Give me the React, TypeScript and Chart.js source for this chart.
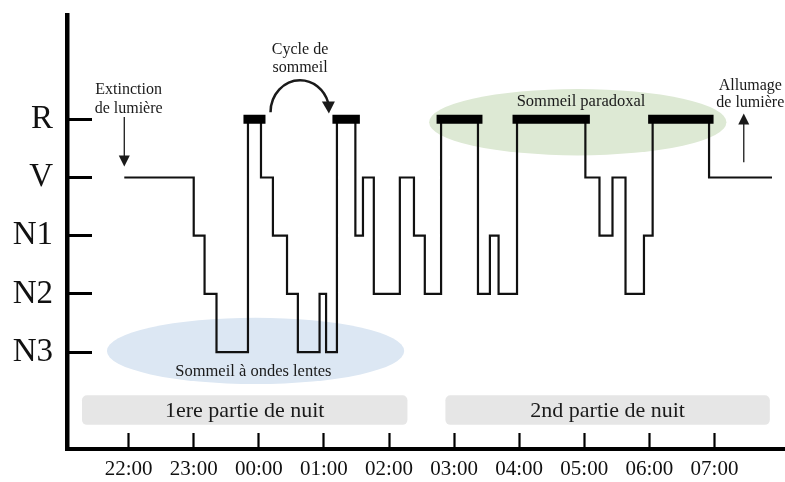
import React, { useEffect, useRef } from 'react';
import { Chart, registerables } from 'chart.js';

Chart.register(...registerables);

// ---- data ----
const stageLabels = ['N3', 'N2', 'N1', 'V', 'R'];
const timeLabels = ['22:00', '23:00', '00:00', '01:00', '02:00', '03:00', '04:00', '05:00', '06:00', '07:00'];
const tickMinutes = [0, 60, 120, 180, 240, 300, 360, 420, 480, 540];

// minutes after 22:00 at which each stage begins (last entry = end of recording)
const transitionMinutes = [-4, 60, 70, 81, 110, 122, 133, 146, 156, 176, 182, 192, 209, 216, 226, 250, 263, 273, 288, 322, 333, 341, 358, 421, 434, 446, 458, 475, 483, 535, 593];
const transitionStages = ['V', 'N1', 'N2', 'N3', 'R', 'V', 'N1', 'N2', 'N3', 'N2', 'N3', 'R', 'N1', 'V', 'N2', 'V', 'N1', 'N2', 'R', 'N2', 'N1', 'N2', 'R', 'V', 'N1', 'V', 'N2', 'N1', 'R', 'V', 'V'];

// shaded zones
const zoneLabels = ['Sommeil à ondes lentes', 'Sommeil paradoxal'];
const zoneCenterMinutes = [117, 414];
const zoneCenterStage = [0.02, 3.95];
const zoneHalfWidthMinutes = [137, 137];
const zoneHalfHeightStage = [0.57, 0.57];
const zoneLabelMinutes = [115, 417];
const zoneLabelStage = [-0.34, 4.31];
const zoneColors = ['#dce7f3', '#dde9d4'];

// night halves
const periodLabels = ['1ere partie de nuit', '2nd partie de nuit'];
const periodStartMinutes = [-43, 292];
const periodEndMinutes = [257, 591];
const periodTopStage = -0.74;
const periodBottomStage = -1.25;

// notes
const noteLines = [['Extinction', 'de lumière'], ['Cycle de', 'sommeil'], ['Allumage', 'de lumière']];
const noteMinutes = [0, 158, 573];
const noteLineStages = [[4.5, 4.18], [5.19, 4.88], [4.57, 4.28]];
const arrowMinutes = [-4, 567];
const arrowFromStage = [4.04, 3.26];
const arrowToStage = [3.19, 4.1];
const cycleArcCenter = [158, 4.12];
const cycleArcRadius = [27.2, 0.55];
const cycleArcTip = [184.6, 4.1];

const FONT = '"Liberation Serif", "Times New Roman", serif';

const stageValue = (s: string) => stageLabels.indexOf(s);

const zeroPadding = (scale: any) => {
  scale.paddingTop = 0;
  scale.paddingBottom = 0;
  scale.paddingLeft = 0;
  scale.paddingRight = 0;
};

const overlayPlugin = {
  id: 'overlay',
  beforeDatasetsDraw(chart: any) {
    const { ctx, scales } = chart;
    const x = scales.x, y = scales.y;
    ctx.save();
    zoneLabels.forEach((_, i) => {
      const cx = x.getPixelForValue(zoneCenterMinutes[i]);
      const cy = y.getPixelForValue(zoneCenterStage[i]);
      const rx = Math.abs(x.getPixelForValue(zoneCenterMinutes[i] + zoneHalfWidthMinutes[i]) - cx);
      const ry = Math.abs(y.getPixelForValue(zoneCenterStage[i] + zoneHalfHeightStage[i]) - cy);
      ctx.beginPath();
      ctx.ellipse(cx, cy, rx, ry, 0, 0, Math.PI * 2);
      ctx.fillStyle = zoneColors[i];
      ctx.fill();
    });
    periodLabels.forEach((label, i) => {
      const x0 = x.getPixelForValue(periodStartMinutes[i]);
      const x1 = x.getPixelForValue(periodEndMinutes[i]);
      const y0 = y.getPixelForValue(periodTopStage);
      const y1 = y.getPixelForValue(periodBottomStage);
      ctx.beginPath();
      ctx.roundRect(x0, y0, x1 - x0, y1 - y0, 5);
      ctx.fillStyle = '#e6e6e6';
      ctx.fill();
      ctx.fillStyle = '#1a1a1a';
      ctx.font = `22px ${FONT}`;
      ctx.textAlign = 'center';
      ctx.textBaseline = 'middle';
      ctx.fillText(label, (x0 + x1) / 2, (y0 + y1) / 2 + 1);
    });
    ctx.restore();
  },
  afterDatasetsDraw(chart: any) {
    const { ctx, scales } = chart;
    const x = scales.x, y = scales.y;
    ctx.save();
    ctx.fillStyle = '#1a1a1a';
    ctx.textAlign = 'center';
    ctx.textBaseline = 'middle';
    ctx.font = `16.5px ${FONT}`;
    zoneLabels.forEach((label, i) => {
      ctx.fillText(label, x.getPixelForValue(zoneLabelMinutes[i]), y.getPixelForValue(zoneLabelStage[i]));
    });
    ctx.font = `16px ${FONT}`;
    noteLines.forEach((lines, i) => {
      lines.forEach((t, j) => {
        ctx.fillText(t, x.getPixelForValue(noteMinutes[i]), y.getPixelForValue(noteLineStages[i][j]));
      });
    });
    // straight arrows
    ctx.strokeStyle = '#1a1a1a';
    arrowMinutes.forEach((m, i) => {
      const ax = x.getPixelForValue(m);
      const yFrom = y.getPixelForValue(arrowFromStage[i]);
      const yTip = y.getPixelForValue(arrowToStage[i]);
      const dir = yTip > yFrom ? 1 : -1;
      ctx.lineWidth = 1.3;
      ctx.beginPath();
      ctx.moveTo(ax, yFrom);
      ctx.lineTo(ax, yTip - dir * 10);
      ctx.stroke();
      ctx.beginPath();
      ctx.moveTo(ax, yTip);
      ctx.lineTo(ax - 5.5, yTip - dir * 11);
      ctx.lineTo(ax + 5.5, yTip - dir * 11);
      ctx.closePath();
      ctx.fill();
    });
    // curved cycle arrow
    const cx = x.getPixelForValue(cycleArcCenter[0]);
    const cy = y.getPixelForValue(cycleArcCenter[1]);
    const rx = Math.abs(x.getPixelForValue(cycleArcCenter[0] + cycleArcRadius[0]) - cx);
    const ry = Math.abs(y.getPixelForValue(cycleArcCenter[1] + cycleArcRadius[1]) - cy);
    ctx.lineWidth = 2.5;
    ctx.beginPath();
    ctx.ellipse(cx, cy, rx, ry, 0, Math.PI, Math.PI * 2 - 0.3);
    ctx.stroke();
    const tx = x.getPixelForValue(cycleArcTip[0]);
    const ty = y.getPixelForValue(cycleArcTip[1]);
    ctx.beginPath();
    ctx.moveTo(tx, ty);
    ctx.lineTo(tx - 7, ty - 12);
    ctx.lineTo(tx + 6, ty - 12);
    ctx.closePath();
    ctx.fill();
    ctx.restore();
  },
};

export default function App() {
  const canvasRef = useRef<HTMLCanvasElement | null>(null);

  useEffect(() => {
    if (!canvasRef.current) return;
    const hypno = transitionMinutes.map((m, i) => ({ x: m, y: stageValue(transitionStages[i]) }));
    const remData: any[] = [];
    transitionStages.forEach((s, i) => {
      if (s === 'R' && i + 1 < transitionMinutes.length) {
        remData.push({ x: transitionMinutes[i], y: stageValue('R') });
        remData.push({ x: transitionMinutes[i + 1], y: stageValue('R') });
        remData.push({ x: transitionMinutes[i + 1], y: null });
      }
    });

    const chart = new Chart(canvasRef.current, {
      type: 'line',
      data: {
        datasets: [
          {
            data: remData,
            borderColor: '#000',
            borderWidth: 9,
            borderCapStyle: 'square',
            pointRadius: 0,
            spanGaps: false,
          } as any,
          {
            data: hypno,
            borderColor: '#111',
            borderWidth: 2.2,
            stepped: 'before',
            borderJoinStyle: 'miter',
            pointRadius: 0,
          } as any,
        ],
      },
      options: {
        animation: false,
        responsive: true,
        maintainAspectRatio: false,
        layout: { padding: { top: 15, right: 0, bottom: 0, left: 0 } },
        plugins: { legend: { display: false }, tooltip: { enabled: false } },
        scales: {
          x: {
            type: 'linear',
            min: -56.8,
            max: 605,
            afterBuildTicks: (scale: any) => {
              scale.ticks = tickMinutes.map((v) => ({ value: v }));
            },
            afterFit: (scale: any) => {
              scale.height = 33;
              zeroPadding(scale);
            },
            ticks: {
              autoSkip: false,
              maxRotation: 0,
              padding: 24,
              color: '#111',
              font: { family: FONT, size: 21 },
              callback: (_v: any, i: number) => timeLabels[i],
            },
            grid: {
              drawOnChartArea: false,
              drawTicks: true,
              tickLength: -16,
              tickWidth: 2.2,
              tickColor: '#000',
            },
            border: { display: true, width: 4, color: '#000' },
          },
          y: {
            type: 'linear',
            min: -1.665,
            max: 5.792,
            afterBuildTicks: (scale: any) => {
              scale.ticks = stageLabels.map((_, i) => ({ value: i }));
            },
            afterFit: (scale: any) => {
              scale.width = 67;
              zeroPadding(scale);
            },
            ticks: {
              autoSkip: false,
              padding: 39,
              color: '#111',
              font: { family: FONT, size: 33 },
              callback: (_v: any, i: number) => stageLabels[i],
            },
            grid: {
              drawOnChartArea: false,
              drawTicks: true,
              tickLength: -25,
              tickWidth: 3,
              tickColor: '#000',
            },
            border: { display: true, width: 4.5, color: '#000' },
          },
        },
      } as any,
      plugins: [overlayPlugin],
    });
    return () => chart.destroy();
  }, []);

  return (
    <div style={{ position: 'fixed', left: 0, top: 0, width: 785, height: 482, background: '#fff' }}>
      <canvas ref={canvasRef} />
    </div>
  );
}
